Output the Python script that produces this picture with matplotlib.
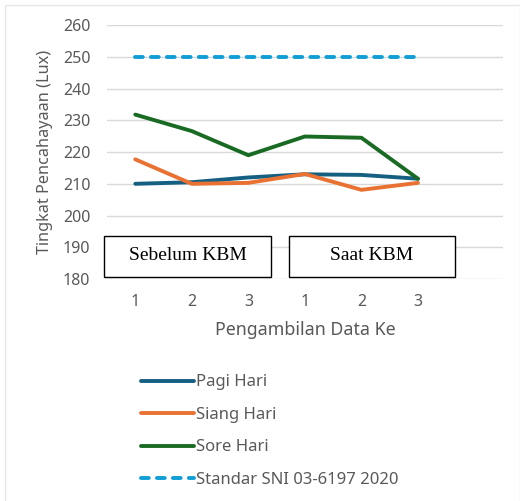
import matplotlib
matplotlib.use("Agg")
import matplotlib.pyplot as plt
from matplotlib.patches import Rectangle

# Measurement data (lux)
categories = ["1", "2", "3", "1", "2", "3"]
pagi = [210.0, 210.5, 212.0, 213.0, 212.8, 211.6]
siang = [217.7, 210.0, 210.3, 213.1, 208.1, 210.3]
sore = [231.8, 226.6, 219.0, 224.9, 224.5, 211.6]
standar = [250, 250, 250, 250, 250, 250]
y_ticks = [180, 190, 200, 210, 220, 230, 240, 250, 260]

COL_PAGI = "#156082"
COL_SIANG = "#E97132"
COL_SORE = "#196B24"
COL_STD = "#0F9ED5"
TXT = "#595959"

plt.rcParams["font.family"] = ["Noto Sans", "DejaVu Sans"]

fig = plt.figure(figsize=(5.2, 5.01), dpi=100)
ax = fig.add_axes([0.2058, 0.443, 0.761, 0.507])

x = list(range(1, len(categories) + 1))
l1, = ax.plot(x, pagi, color=COL_PAGI, lw=2.8, solid_capstyle="round", label="Pagi Hari")
l2, = ax.plot(x, siang, color=COL_SIANG, lw=2.8, solid_capstyle="round", label="Siang Hari")
l3, = ax.plot(x, sore, color=COL_SORE, lw=2.8, solid_capstyle="round", label="Sore Hari")
l4, = ax.plot(x, standar, color=COL_STD, lw=2.8, ls=(0, (2.0, 2.1)), dash_capstyle="round",
              label="Standar SNI 03-6197 2020")

ax.set_xlim(0.5, 7.5)
ax.set_ylim(180, 260)
ax.set_yticks(y_ticks)
ax.set_xticks(x)
ax.set_xticklabels(categories)
ax.grid(axis="y", color="#d9d9d9", lw=1)
ax.set_axisbelow(True)
for s in ax.spines.values():
    s.set_visible(False)
ax.tick_params(length=0, labelsize=11.5, labelcolor=TXT, pad=12)
ax.tick_params(axis="x", pad=11)

ax.set_xlabel("Pengambilan Data Ke", fontsize=12.8, color=TXT, labelpad=8)
ax.set_ylabel("Tingkat Pencahayaan (Lux)", fontsize=11.7, color=TXT, labelpad=7)

# Group boxes
for x0, x1, txt in [(0.45, 3.40, "Sebelum KBM"), (3.72, 6.65, "Saat KBM")]:
    ax.add_patch(Rectangle((x0, 180.8), x1 - x0, 12.9, facecolor="white",
                           edgecolor="black", lw=1.0, zorder=5, clip_on=False))
    ax.text((x0 + x1) / 2, 187.3, txt, ha="center", va="center",
            family="Liberation Serif", fontsize=14, zorder=6)

fig.legend(handles=[l1, l2, l3, l4], loc="upper left", bbox_to_anchor=(0.258, 0.266),
           frameon=False, fontsize=12, labelcolor=TXT, handlelength=3.2,
           handletextpad=0.1, labelspacing=0.99, borderaxespad=0)

# Chart frame
fig.patches.append(Rectangle((0.01, -0.01), 0.99, 1.0, transform=fig.transFigure,
                             fill=False, edgecolor="#e6e6e6", lw=1))

fig.savefig("out.png", dpi=100)
